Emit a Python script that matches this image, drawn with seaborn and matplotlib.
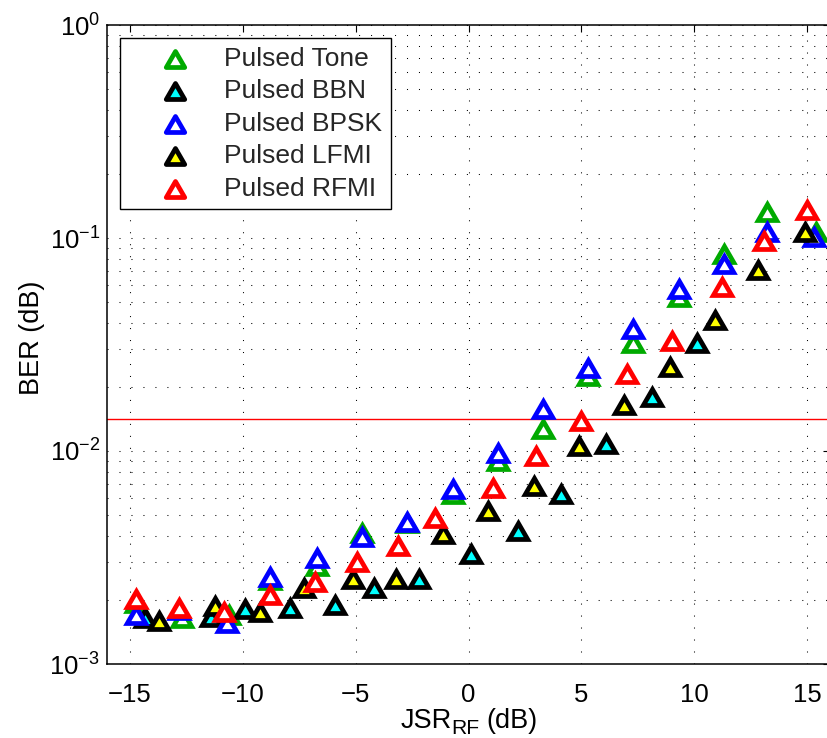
import numpy as np
import pandas as pd
import matplotlib
matplotlib.use("Agg")
import matplotlib.pyplot as plt
import seaborn as sns
from matplotlib.path import Path
from matplotlib.ticker import LogLocator, NullFormatter, FixedLocator

# ---- data: JSR (dB) vs. bit error rate for each pulsed jammer ----
tone_jsr = [-14.7, -12.7, -10.6, -8.8, -6.7, -4.7, -2.7, -0.7, 1.3, 3.3, 5.3, 7.3, 9.3, 11.3, 13.2, 15.4]
tone_ber = [1.93e-3, 1.64e-3, 1.69e-3, 2.47e-3, 2.90e-3, 4.1e-3, 4.6e-3, 6.3e-3, 8.97e-3, 0.0127,
            0.0224, 0.032, 0.053, 0.084, 0.132, 0.107]

bbn_jsr = [-14.3, -11.4, -9.9, -7.9, -5.9, -4.2, -2.2, 0.1, 2.2, 4.1, 6.1, 8.1, 10.1]
bbn_ber = [1.64e-3, 1.66e-3, 1.81e-3, 1.83e-3, 1.89e-3, 2.27e-3, 2.52e-3, 3.3e-3, 4.2e-3, 6.3e-3,
           0.0108, 0.0179, 0.0323]

bpsk_jsr = [-14.7, -12.8, -10.7, -8.8, -6.7, -4.7, -2.7, -0.7, 1.3, 3.3, 5.3, 7.3, 9.3, 11.3, 13.2, 15.3]
bpsk_ber = [1.69e-3, 1.79e-3, 1.56e-3, 2.55e-3, 3.13e-3, 3.96e-3, 4.66e-3, 6.6e-3, 9.8e-3, 0.0157,
            0.0244, 0.0372, 0.0578, 0.0756, 0.1066, 0.101]

lfmi_jsr = [-13.7, -11.2, -9.25, -7.3, -5.1, -3.2, -1.15, 0.85, 2.9, 4.9, 6.9, 8.9, 10.9, 12.8, 14.9]
lfmi_ber = [1.59e-3, 1.87e-3, 1.75e-3, 2.27e-3, 2.52e-3, 2.52e-3, 4.09e-3, 5.25e-3, 6.86e-3, 0.01055,
            0.0164, 0.0249, 0.041, 0.0708, 0.1066]

rfmi_jsr = [-14.7, -12.8, -10.8, -8.8, -6.8, -4.95, -3.1, -1.5, 1.1, 3.0, 5.0, 7.0, 9.0, 11.2, 13.1, 15.0]
rfmi_ber = [2.01e-3, 1.83e-3, 1.75e-3, 2.10e-3, 2.42e-3, 3.0e-3, 3.6e-3, 4.87e-3, 6.7e-3, 9.5e-3,
            0.0138, 0.0229, 0.0327, 0.059, 0.0968, 0.135]

series_names = ["Pulsed Tone", "Pulsed BBN", "Pulsed BPSK", "Pulsed LFMI", "Pulsed RFMI"]
ber_threshold = 0.0142

x_ticks = [-15, -10, -5, 0, 5, 10, 15]

# marker styling per series: (edge colour, face colour)
styles = {
    "Pulsed Tone": ("#00aa00", "white"),
    "Pulsed BBN": ("black", "#00ffff"),
    "Pulsed BPSK": ("#0000ff", "white"),
    "Pulsed LFMI": ("black", "#ffff00"),
    "Pulsed RFMI": ("#ff0000", "white"),
}

# equilateral up-triangle, centred on its bounding box
s3 = np.sqrt(3.0)
tri = Path([(0, 1), (-2 / s3, -1), (2 / s3, -1), (0, 1)],
           [Path.MOVETO, Path.LINETO, Path.LINETO, Path.CLOSEPOLY])

frames = []
for name, xs, ys in zip(series_names,
                        [tone_jsr, bbn_jsr, bpsk_jsr, lfmi_jsr, rfmi_jsr],
                        [tone_ber, bbn_ber, bpsk_ber, lfmi_ber, rfmi_ber]):
    frames.append(pd.DataFrame({"jsr": xs, "ber": ys, "jammer": name}))
df = pd.concat(frames, ignore_index=True)

sns.set_theme(style="white")
plt.rcParams["font.family"] = ["Liberation Sans", "DejaVu Sans"]
plt.rcParams["mathtext.fontset"] = "custom"
plt.rcParams["mathtext.rm"] = "Liberation Sans"
plt.rcParams["mathtext.it"] = "Liberation Sans:italic"
plt.rcParams["mathtext.bf"] = "Liberation Sans:bold"
plt.rcParams["mathtext.sf"] = "Liberation Sans"
plt.rcParams["axes.unicode_minus"] = True

TICK_FS = 18.5
LEG_FS = 19
LAB_FS = 19.5

W, H = 827, 738
fig = plt.figure(figsize=(W / 100, H / 100), dpi=100)
ax = fig.add_axes([107 / W, 1 - 664 / H, (830 - 107) / W, (664 - 25) / H])
ax.set_facecolor("white")

ms = 13.3
for i, name in enumerate(series_names):
    edge, face = styles[name]
    sub = df[df["jammer"] == name]
    sns.scatterplot(data=sub, x="jsr", y="ber", ax=ax, marker=tri, s=ms ** 2,
                    color=face, edgecolor=edge, linewidth=3.4, joinstyle="miter",
                    label=name, zorder=3 + i, legend=False)

ax.axhline(ber_threshold, color="#ff0000", lw=1.0, zorder=2)

ax.set_yscale("log")
ax.set_xlim(-16, 16)
ax.set_ylim(1e-3, 1)
ax.xaxis.set_major_locator(FixedLocator(x_ticks))
ax.yaxis.set_major_locator(LogLocator(base=10, numticks=10))
ax.yaxis.set_minor_locator(LogLocator(base=10, subs=np.arange(2, 10), numticks=20))
ax.yaxis.set_minor_formatter(NullFormatter())

dot = (0, (1, 10.5))
ax.grid(True, which="major", axis="x", linestyle=dot, color="black", linewidth=0.75)
ax.grid(True, which="both", axis="y", linestyle=dot, color="black", linewidth=0.75)
ax.set_axisbelow(True)

for sp in ax.spines.values():
    sp.set_color("black")
    sp.set_linewidth(1.1)

ax.tick_params(which="both", direction="in", top=True, right=True, colors="black",
               labelsize=TICK_FS, width=0.8)
ax.tick_params(which="major", length=5)
ax.tick_params(which="minor", length=3)
ax.tick_params(axis="x", which="major", pad=13.5)
ax.tick_params(axis="y", which="major", pad=5)

# axis titles
ax.set_xlabel("")
ax.set_ylabel("BER (dB)", fontsize=LAB_FS, color="black")
ax.yaxis.set_label_coords(-0.086, 0.51)


def px(x, y):
    return x / W, 1 - y / H


# x-axis title with a lowered "RF" subscript
fig.text(*px(401, 728), "JSR", fontsize=LAB_FS, ha="left", va="baseline", color="black")
fig.text(*px(451, 733.5), "RF", fontsize=LAB_FS * 0.78, ha="left", va="baseline", color="black")
fig.text(*px(486, 728), "(dB)", fontsize=LAB_FS, ha="left", va="baseline", color="black")

handles, labels = ax.get_legend_handles_labels()
leg = ax.legend(handles, labels, loc="upper left", fontsize=LEG_FS, frameon=True,
                fancybox=False, shadow=False, framealpha=1, edgecolor="black",
                borderpad=0.33, handlelength=3.5, handletextpad=0.1,
                labelspacing=0.32, borderaxespad=0.5, scatterpoints=1)
leg.get_frame().set_linewidth(1.0)

fig.savefig("out.png", dpi=100, facecolor="white")
